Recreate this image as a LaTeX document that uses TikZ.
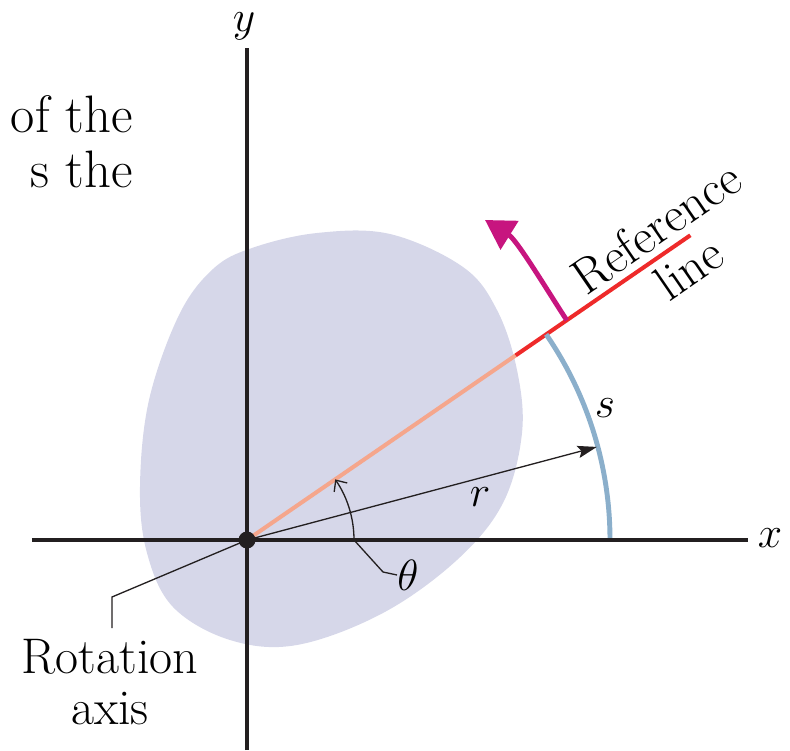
\documentclass[tikz,border=0pt]{standalone}
\usepackage{fontspec}
\usetikzlibrary{arrows.meta,calc}
\definecolor{blobfill}{HTML}{D6D7E9}
\definecolor{axiscol}{HTML}{231F20}
\definecolor{salmon}{HTML}{F5A68C}
\definecolor{refred}{HTML}{EE2A2A}
\definecolor{arcblue}{HTML}{8BAFCB}
\definecolor{spinmag}{HTML}{C7157F}
\begin{document}
\begin{tikzpicture}[x=0.02cm, y=0.02cm,
    axis/.style={draw=axiscol, line width=2.3pt},
    leader/.style={draw=axiscol, line width=0.75pt},
    lbl/.style={font=\fontsize{28.5}{29}\selectfont, inner sep=0pt},
    var/.style={font=\fontsize{29}{29}\selectfont, inner sep=0pt},
    >=Stealth
]
\useasboundingbox (-247,-210) rectangle (543,540);

% the body
\fill[blobfill] plot[smooth cycle, tension=0.6] coordinates {
    (5,292) (70,307) (143,306) (216,273) (250,230) (270,170) (275,107)
    (256,37) (210,-20) (136,-73) (50,-105) (-17,-100) (-74,-67)
    (-100,-13) (-107,53) (-98,140) (-68,225) (-34,271)};

% text of the page
\node[font=\fontsize{30}{31}\selectfont, anchor=base east, inner sep=0pt] (txtA) at (-114,407) {of the};
\node[font=\fontsize{30}{31}\selectfont, anchor=base east, inner sep=0pt] (txtB) at (-114,352) {s the};

\coordinate (O) at (0,0);
\coordinate (refIn) at (34.5:326);
\coordinate (refEnd) at (34.5:538);

% reference line
\draw[salmon, line width=2.3pt] (O) -- (refIn);
\draw[refred, line width=2.3pt] (refIn) -- (refEnd);

% arc length s
\draw[arcblue, line width=2.8pt] (363,0) arc[start angle=0, end angle=34.5, radius=363];

% axes
\coordinate (xL) at (-215,0);
\coordinate (xR) at (501,0);
\coordinate (yB) at (0,-210);
\coordinate (yT) at (0,492);
\draw[axis] (xL) -- (xR);
\draw[axis] (yB) -- (yT);
\node[var] (xlab) at (523,2) {$x$};
\node[var] (ylab) at (-3,514) {$y$};

% radius r
\coordinate (rTip) at (14.9:362);
\draw[leader, -{Stealth[length=11pt, width=7pt, inset=2pt]}] (O) -- (rTip);
\node[var] (rlab) at (233,43) {$r$};
\node[var] (slab) at (358,132) {$s$};

% angle theta
\draw[leader, -{Straight Barb[length=5pt, width=9pt]}] (107,0) arc[start angle=0, end angle=34.5, radius=107];
\coordinate (thKnee) at (136,-32);
\node[var, anchor=west] (thlab) at (150,-35) {$\theta$};
\draw[leader] (107,0) -- (thKnee) -- (thlab.west);

% rotation axis
\node[lbl, align=center, anchor=north] (rot) at (-137,-99) {Rotation\\axis};
\coordinate (rotKnee) at (-135,-57);
\coordinate (rotTop) at (-135,-88);
\draw[leader] (O) -- (rotKnee) -- (rotTop);
\fill[axiscol] (O) circle (8.5);

% label of the reference line
\node[lbl, anchor=base, rotate=34.5] (reflabA) at ($(34.5:514)+(124.5:9)$) {Reference};
\node[lbl, anchor=north, rotate=34.5] (reflabB) at ($(34.5:518)+(124.5:-8)$) {line};

% sense of rotation
\coordinate (spinA) at (34.5:388);
\coordinate (spinB) at (238,320);
\draw[spinmag, line width=2.8pt, -{Triangle[length=0.58cm, width=0.66cm]}]
    (spinA) .. controls (300,250) and (270,300) .. (spinB);
\end{tikzpicture}
\end{document}
